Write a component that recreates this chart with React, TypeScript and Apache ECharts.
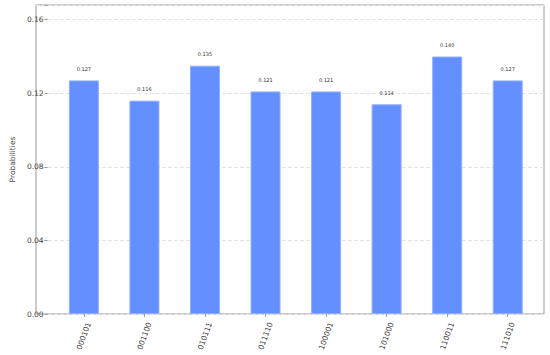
import React, { useEffect, useRef } from "react";
import * as echarts from "echarts";

const categories = ["000101", "001100", "010111", "011110", "100001", "101000", "110011", "111010"];
const probabilities = [0.127, 0.116, 0.135, 0.121, 0.121, 0.114, 0.140, 0.127];
const yTicks = [0, 0.04, 0.08, 0.12, 0.16];

export default function App() {
  const ref = useRef<HTMLDivElement>(null);
  useEffect(() => {
    if (!ref.current) return;
    const chart = echarts.init(ref.current, undefined, { renderer: "svg" });
    const font = "DejaVu Sans";
    const axisColor = "#999999";
    chart.setOption({
      animation: false,
      backgroundColor: "#ffffff",
      grid: [
        { left: 42, right: 12, top: 5, bottom: 41, show: false },
        {
          left: 36,
          right: 6,
          top: 5,
          bottom: 41,
          show: true,
          borderColor: axisColor,
          borderWidth: 1,
          backgroundColor: "transparent",
        },
      ],
      xAxis: [
        {
          type: "category",
          gridIndex: 0,
          data: categories,
          axisLine: { show: false },
          axisTick: { show: true, alignWithLabel: true, length: 3, lineStyle: { color: axisColor } },
          axisLabel: {
            rotate: 70,
            align: "center",
            verticalAlign: "middle",
            margin: 22,
            fontFamily: font,
            fontSize: 7.5,
            color: "#444",
            interval: 0,
          },
          splitLine: { show: false },
        },
        {
          type: "value",
          gridIndex: 1,
          min: 0,
          max: 1,
          show: false,
        },
      ],
      yAxis: [
        {
          type: "value",
          gridIndex: 0,
          min: 0,
          max: 0.168,
          interval: 0.04,
          offset: 6,
          name: "Probabilities",
          nameLocation: "middle",
          nameGap: 27,
          nameTextStyle: { fontFamily: font, fontSize: 7.5, color: "#444" },
          axisLine: { show: false },
          axisTick: { show: true, length: 3, lineStyle: { color: axisColor } },
          axisLabel: {
            fontFamily: font,
            fontSize: 7.5,
            color: "#444",
            margin: 4,
            formatter: (v: number) =>
              yTicks.some((t) => Math.abs(t - v) < 1e-9) ? v.toFixed(2) : "",
          },
          splitLine: { show: false },
        },
        {
          type: "value",
          gridIndex: 1,
          min: 0,
          max: 0.168,
          interval: 0.04,
          axisLine: { show: false },
          axisTick: { show: false },
          axisLabel: { show: false },
          splitLine: { show: true, lineStyle: { color: "#e4e4e4", type: "dashed", width: 1 } },
        },
      ],
      series: [
        {
          type: "bar",
          xAxisIndex: 0,
          yAxisIndex: 0,
          data: probabilities,
          barWidth: 30,
          z: 5,
          itemStyle: { color: "#648fff", borderColor: "#8fb0ff", borderWidth: 1 },
          label: {
            show: true,
            position: "top",
            distance: 9,
            formatter: (p: any) => p.value.toFixed(3),
            fontFamily: font,
            fontSize: 5,
            color: "#333",
          },
        },
      ],
    });
    return () => chart.dispose();
  }, []);
  return (
    <div
      ref={ref}
      style={{ position: "fixed", left: 0, top: 0, width: 550, height: 355 }}
    />
  );
}
